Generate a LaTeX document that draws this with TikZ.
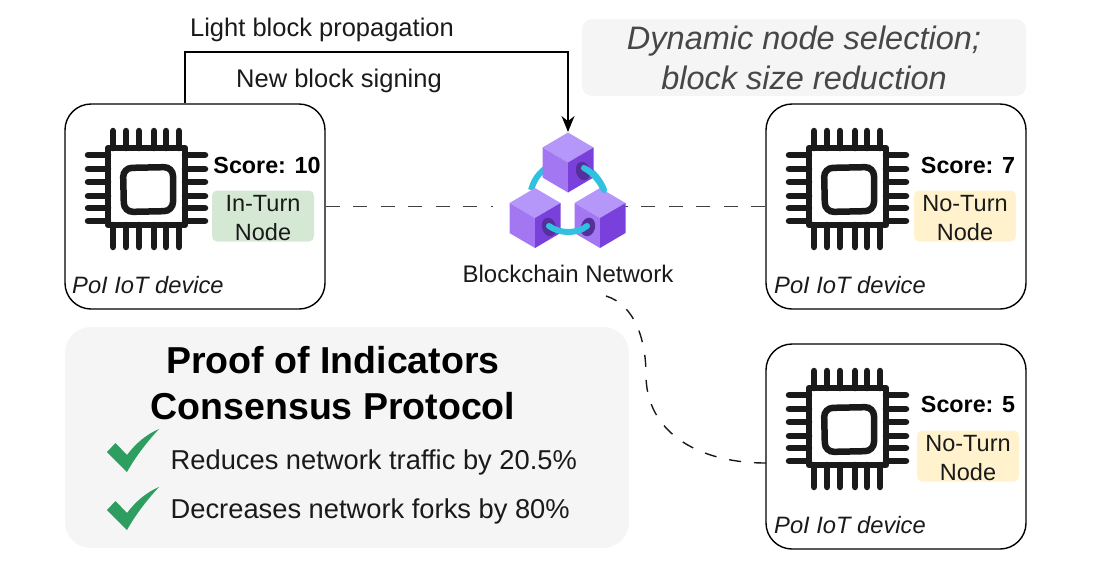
\documentclass[tikz,border=0pt]{standalone}
\usepackage{fontspec}
\setmainfont{Liberation Sans}
\usetikzlibrary{arrows.meta,calc}
\definecolor{cubeT}{HTML}{B497F8}
\definecolor{cubeL}{HTML}{A477F2}
\definecolor{cubeR}{HTML}{7A40DC}
\definecolor{ringC}{HTML}{30C0E0}
\definecolor{holeC}{HTML}{55309A}
\definecolor{checkC}{HTML}{2E9E60}
\definecolor{panelC}{HTML}{F5F5F5}
\definecolor{greenC}{HTML}{D5E8D4}
\definecolor{yellowC}{HTML}{FFF2CC}
\definecolor{inkC}{HTML}{1A1A1A}
\tikzset{
  device/.style={draw=black,line width=1.4pt,rounded corners=26pt,minimum width=260pt,minimum height=205pt,inner sep=0pt},
  panel/.style={fill=panelC,draw=none,inner sep=0pt},
  turnbox/.style={rounded corners=5pt,minimum width=102pt,minimum height=51pt,inner sep=0pt,align=center,font=\fontsize{23.5}{29}\selectfont,text=inkC},
  lbl/.style={inner sep=0pt,font=\fontsize{25.5}{28}\selectfont,text=inkC},
  score/.style={inner sep=0pt,font=\bfseries\fontsize{23.3}{26}\selectfont},
  devlabel/.style={inner sep=0pt,font=\itshape\fontsize{23.7}{26}\selectfont,text=inkC},
  dashline/.style={draw=black!75,line width=1.8pt,dash pattern=on 14pt off 13.5pt},
  pin/.style={line width=6.5pt,line cap=round,draw=inkC},
  chip/.pic={
    \draw[line width=6.5pt,draw=inkC,line join=round] (108,148) rectangle (185,225);
    \draw[line width=6.5pt,draw=inkC,rounded corners=9pt] (123,168) -- (173,167) -- (173,211) -- (124,212) -- cycle;
    \foreach \y in {155,169,182,196,208,221}{
      \draw[pin] (88,\y) -- (108,\y);
      \draw[pin] (185,\y) -- (205,\y);
    }
    \foreach \x in {113,126,139,154,166,179}{
      \draw[pin] (\x,131) -- (\x,148);
      \draw[pin] (\x,225) -- (\x,247);
    }
  },
  cube/.pic={
    \fill[cubeT] (0,0) -- (25.5,15) -- (0,30) -- (-25.5,15) -- cycle;
    \fill[cubeL] (-25.5,15) -- (0,30) -- (0,60) -- (-25.5,45) -- cycle;
    \fill[cubeR] (25.5,15) -- (0,30) -- (0,60) -- (25.5,45) -- cycle;
  },
  checkmark/.pic={
    \fill[checkC] (107,452) -- (115.5,443) -- (127,455) .. controls (136,443) and (147,434) .. (159,429) .. controls (147,442) and (136,456) .. (127,472) -- cycle;
  }
}
\begin{document}
\begin{tikzpicture}[x=1pt,y=-1pt]
\useasboundingbox (0,0) rectangle (1100,560);
% panels
\node[panel,rounded corners=10pt,minimum width=444pt,minimum height=77pt] (topPanel) at (804,57.5) {};
\node[panel,rounded corners=26pt,minimum width=564pt,minimum height=221pt] (botPanel) at (347,437.5) {};
% devices
\node[device] (devA) at (195,206.5) {};
\node[device] (devB) at (896,206.5) {};
\node[device] (devC) at (896,446.5) {};
% network anchors
\coordinate (netTop) at (568,132);
\coordinate (netLeft) at (493,206.5);
\coordinate (netRight) at (625,206.5);
\coordinate (curveStart) at (606,296);
\coordinate (curveEnd) at (766,463);
\coordinate (leftStart) at (185,104);
% connectors
\draw[dashline] (devA.east) -- (netLeft);
\draw[dashline] (devB.west) -- (netRight);
\draw[draw=black!90,line width=1.4pt,dash pattern=on 12pt off 13pt] (curveEnd) .. controls (695,463) and (646,430) .. (646,375) .. controls (646,340) and (635,305) .. (curveStart);
\draw[line width=1.5pt,-{Stealth[length=16pt,width=13pt]}] (devA.north -| leftStart) -- (185,52) -- (568,52) -- (netTop);
% chips
\pic at (0,0) {chip};
\pic at (701,0) {chip};
\pic at (701,240) {chip};
% ring
\draw[ringC,line width=6pt] (531,190) .. controls (534,180) and (538,174) .. (546,168);
\draw[ringC,line width=6pt] (604,190) .. controls (600,180) and (594,172) .. (584,167);
% cubes
\pic at (568,132.5) {cube};
\pic at (535,188) {cube};
\pic at (600,188) {cube};
\fill[holeC,rotate around={15:(583,171)}] (583,171) ellipse (7pt and 9.5pt);
\fill[holeC,rotate around={15:(549,227)}] (549,227) ellipse (7pt and 9.5pt);
\fill[holeC,rotate around={-15:(588,227)}] (588,227) ellipse (7pt and 9.5pt);
\draw[ringC,line width=6pt,line cap=round] (584,168) .. controls (592,172) and (599,180) .. (604,190);
\draw[ringC,line width=6pt,line cap=round] (549,226) .. controls (560,234) and (577,234) .. (587,226);
% texts
\node[lbl] (lblLight) at (322,30) {Light block propagation};
\node[lbl] (lblNew) at (339,81) {New block signing};
\node[inner sep=0pt,align=center,font=\itshape\fontsize{32.5}{40}\selectfont,text=black!72] (topText) at (804,58) {Dynamic node selection;\\block size reduction};
\node[lbl,font=\fontsize{24}{26}\selectfont] (netLabel) at (568,274) {Blockchain Network};
\node[score] (scoreA) at (267,165) {Score: 10};
\node[score] (scoreB) at (968,165) {Score: 7};
\node[score] (scoreC) at (968,404) {Score: 5};
\node[turnbox,fill=greenC] (turnA) at (263,216) {\rule{0pt}{21pt}In-Turn\\Node};
\node[turnbox,fill=yellowC] (turnB) at (965,216) {\rule{0pt}{21pt}No-Turn\\Node};
\node[turnbox,fill=yellowC] (turnC) at (968,456) {\rule{0pt}{21pt}No-Turn\\Node};
\node[devlabel,anchor=west] (devLabelA) at (72,285) {PoI IoT device};
\node[devlabel,anchor=west] (devLabelB) at (774,285) {PoI IoT device};
\node[devlabel,anchor=west] (devLabelC) at (774,525) {PoI IoT device};
\node[inner sep=0pt,align=center,font=\bfseries\fontsize{37.5}{46}\selectfont] (title) at (333,383) {Proof of Indicators\\Consensus Protocol};
\node[inner sep=0pt,anchor=west,font=\fontsize{27.3}{30}\selectfont,text=inkC] (benefitA) at (170.5,462) {Reduces network traffic by 20.5\%};
\node[inner sep=0pt,anchor=west,font=\fontsize{27.3}{30}\selectfont,text=inkC] (benefitB) at (170.5,511) {Decreases network forks by 80\%};
\pic at (0,0) {checkmark};
\pic at (0,58) {checkmark};
\end{tikzpicture}
\end{document}
